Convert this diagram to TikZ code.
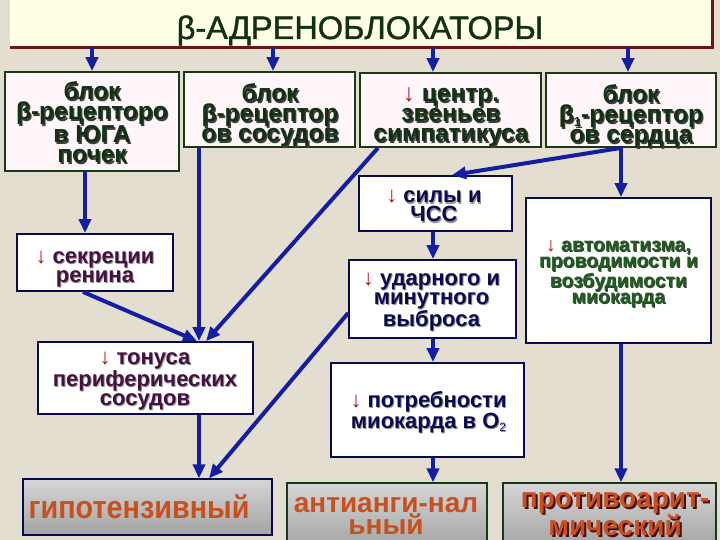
\documentclass[tikz,border=0pt]{standalone}
\usepackage{fontspec}
\setmainfont{Liberation Sans}
\newfontfamily\gpfont[FakeStretch=0.9]{Liberation Sans}
\newfontfamily\titlefont[FakeBold=1.2]{Liberation Sans}
\usetikzlibrary{arrows.meta}
\definecolor{bgc}{RGB}{228,222,208}
\definecolor{titlefill}{RGB}{255,255,230}
\definecolor{maroon}{RGB}{110,20,20}
\definecolor{topgreen}{RGB}{18,48,18}
\definecolor{topborder}{RGB}{25,55,25}
\definecolor{topfill}{RGB}{255,246,250}
\definecolor{navyc}{RGB}{10,10,80}
\definecolor{purplec}{RGB}{70,16,64}
\definecolor{avgreen}{RGB}{30,95,30}
\definecolor{orangec}{RGB}{200,80,30}
\definecolor{arrred}{RGB}{180,20,20}
\definecolor{conn}{RGB}{20,30,165}
\definecolor{shdark}{RGB}{60,60,60}
\definecolor{shlight}{RGB}{150,150,150}
\definecolor{shbrown}{RGB}{70,15,15}
\newif\ifshd
\newcommand\dn{\ifshd\phantom{↓}\else{\mdseries\color{arrred}↓}\fi}
% #1 name, #2 position (baseline of last line), #3 style, #4 shadow colour, #5 shadow offset, #6 text
\newcommand\stxt[6]{%
  \global\shdtrue
  \node[#3, text=#4, anchor=base] at ([shift={(#5,#5)}]#2) {#6};
  \global\shdfalse
  \node[#3, anchor=base] (#1) at (#2) {#6};}
\begin{document}
\begin{tikzpicture}[x=1pt,y=-1pt,
  tbox/.style={draw=topborder, line width=1.8pt, fill=topfill, inner sep=0pt},
  mbox/.style={draw=navyc, line width=1.8pt, fill=white, inner sep=0pt},
  bbox/.style={line width=1.2pt, inner sep=0pt, top color=black!16, middle color=black!2, bottom color=black!36},
  toptxt/.style={align=center, inner sep=0pt, text=topgreen, font=\fontsize{24.5}{20}\selectfont\bfseries},
  midtxt/.style={align=center, inner sep=0pt, font=\fontsize{22}{19}\selectfont\bfseries},
  arr/.style={draw=conn, line width=4pt, -{Triangle[length=14pt,width=12pt]}}]
\useasboundingbox (0,0) rectangle (720,540);
\fill[bgc] (0,0) rectangle (720,540);
% title
\node[fill=titlefill, inner sep=0pt, minimum width=702pt, minimum height=47pt] (title) at (361,23.5) {};
\draw[maroon, line width=3pt] (title.south west) -- (title.south east) -- (title.north east);
\node[anchor=base, inner sep=0pt, text=topgreen, font=\titlefont\fontsize{32.5}{33}\selectfont] (ttext) at (360,39) {β-АДРЕНОБЛОКАТОРЫ};
% top boxes
\node[tbox, minimum width=174pt, minimum height=99pt] (b1) at (92,121.5) {};
\node[tbox, minimum width=171pt, minimum height=75pt] (b2) at (269.5,109.5) {};
\node[tbox, minimum width=181pt, minimum height=74pt] (b3) at (450.5,110) {};
\node[tbox, minimum width=170pt, minimum height=74pt] (b4) at (631,110) {};
\stxt{t1}{92,163}{toptxt}{shdark}{1.5}{блок\\β-рецепторо\\в ЮГА\\почек}
\stxt{t2}{270,142}{toptxt}{shdark}{1.5}{блок\\β-рецептор\\ов сосудов}
\stxt{t3}{451,142}{toptxt}{shdark}{1.5}{\dn{} центр.\\звеньев\\симпатикуса}
\stxt{t4}{631,143}{toptxt}{shdark}{1.5}{блок\\β\raisebox{-0.3ex}{\fontsize{13}{13}\selectfont 1}-рецептор\\ов сердца}
% middle boxes
\node[mbox, minimum width=156pt, minimum height=57pt] (rn) at (95,262.5) {};
\node[mbox, minimum width=153pt, minimum height=55pt] (ch) at (435.5,203.5) {};
\node[mbox, minimum width=185pt, minimum height=145pt] (av) at (618.5,270.5) {};
\node[mbox, minimum width=167pt, minimum height=78pt] (ud) at (432.5,299) {};
\node[mbox, minimum width=215pt, minimum height=72pt] (tn) at (145.5,378) {};
\node[mbox, minimum width=193pt, minimum height=94pt] (po) at (427.5,410) {};
\stxt{trn}{95,282}{midtxt, text=purplec}{shlight}{1}{\dn{} секреции\\ренина}
\stxt{tch}{434,222}{midtxt, text=navyc}{shlight}{1}{\dn{} силы и\\ЧСС}
\stxt{tud}{431.5,326}{midtxt, text=navyc}{shlight}{1}{\dn{} ударного и\\минутного\\выброса}
\stxt{tpo}{428.5,428}{midtxt, text=navyc, font=\fontsize{22}{18}\selectfont\bfseries}{shlight}{1}{\dn{} потребности\\миокарда в O\raisebox{-0.3ex}{\fontsize{12}{12}\selectfont\mdseries 2}}
\stxt{ttn}{145,405}{midtxt, text=purplec, font=\fontsize{22}{18.5}\selectfont\bfseries}{shlight}{1}{\dn{} тонуса\\периферических\\сосудов}
\stxt{tav}{618.5,303}{midtxt, text=avgreen, font=\fontsize{19.5}{16}\selectfont\bfseries}{shdark}{1}{\dn{} автоматизма,\\проводимости и\\возбудимости\\миокарда}
% bottom boxes
\node[bbox, draw=navyc, minimum width=249pt, minimum height=56pt] (gp) at (147.5,507) {};
\node[bbox, draw=topborder, minimum width=200pt, minimum height=65pt] (an) at (387,515.5) {};
\node[bbox, draw=topborder, minimum width=213pt, minimum height=65pt] (pa) at (609.5,515.5) {};
\node[anchor=base, inner sep=0pt, text=orangec, font=\gpfont\fontsize{32}{32}\selectfont\bfseries] (tgp) at (139,518) {гипотензивный};
\node[anchor=base, align=center, inner sep=0pt, text=orangec, font=\fontsize{28}{22}\selectfont\bfseries] (tan) at (386,534) {антианги-нал\\ьный};
\stxt{tpa}{615,535}{align=center, inner sep=0pt, text=orangec, font=\fontsize{28}{22}\selectfont\bfseries}{shbrown}{2}{противоарит-\\мический}
% connectors
\draw[arr] (title.south -| 92,0) -- (b1.north -| 92,0);
\draw[arr] (title.south -| 273,0) -- (b2.north -| 273,0);
\draw[arr] (title.south -| 433,0) -- (b3.north -| 433,0);
\draw[arr] (title.south -| 628,0) -- (b4.north -| 628,0);
\draw[arr] (b1.south -| 85,0) -- (rn.north -| 85,0);
\draw[arr] (rn.south -| 83,0) -- (tn.north -| 197,0);
\draw[arr] (b2.south -| 199,0) -- (tn.north -| 199,0);
\draw[arr] (b3.south -| 378,0) -- (tn.north -| 206,0);
\draw[arr] (b4.south -| 621,0) -- (ch.north -| 452,0);
\draw[arr] (b4.south -| 621,0) -- (av.north -| 621,0);
\draw[arr] (ch.south -| 433,0) -- (ud.north -| 433,0);
\draw[arr] (ud.south -| 433,0) -- (po.north -| 433,0);
\draw[arr] (po.south -| 433,0) -- (an.north -| 433,0);
\draw[arr] (tn.south -| 199,0) -- (gp.north -| 199,0);
\draw[arr] (ud.west |- 0,313) -- (gp.north -| 209,0);
\draw[arr] (av.south -| 621,0) -- (pa.north -| 621,0);
\end{tikzpicture}
\end{document}
